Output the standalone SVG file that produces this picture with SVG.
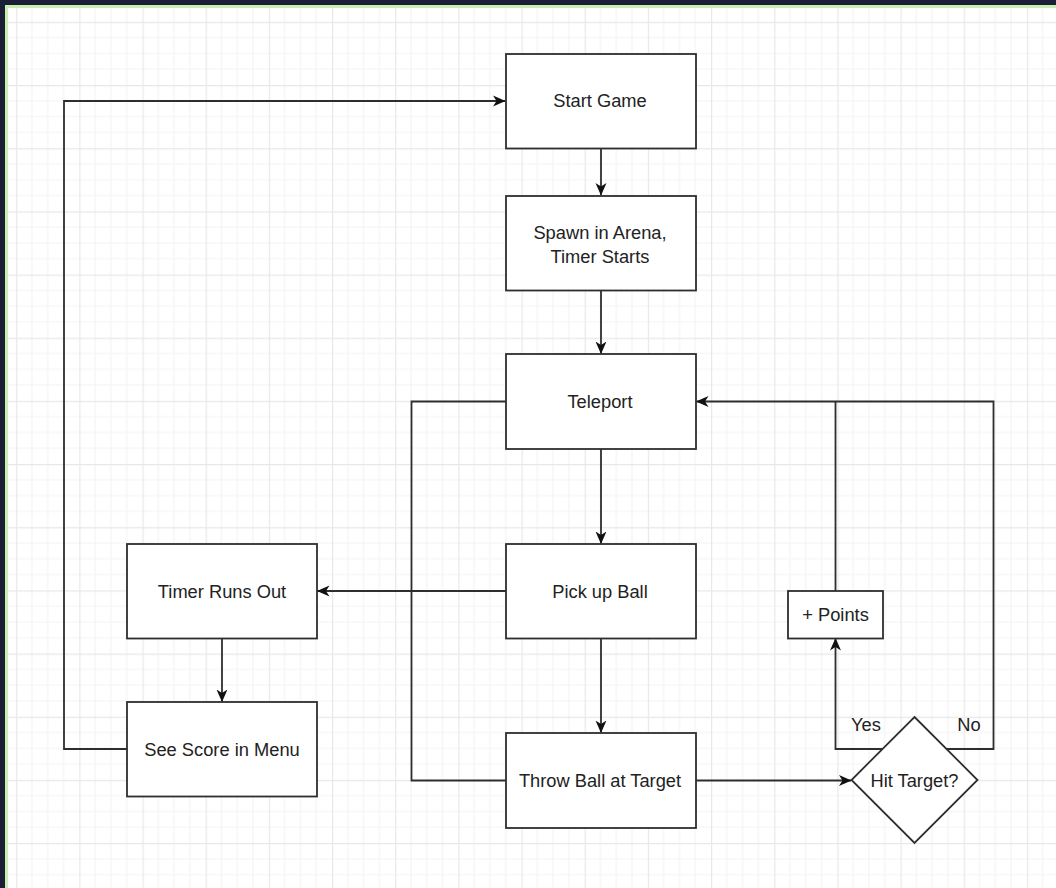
<svg xmlns="http://www.w3.org/2000/svg" width="1056" height="888" viewBox="0 0 1056 888">
  <style>
    .box { fill: #ffffff; stroke: #2e2e2e; stroke-width: 1.8; }
    .lbl { font-family: "Liberation Sans", Arial, sans-serif; font-size: 18.3px; fill: #222222; text-anchor: middle; dominant-baseline: central; }
    .edge { fill: none; stroke: #2e2e2e; stroke-width: 1.8; }
  </style>
  <defs>
    <pattern id="grid" patternUnits="userSpaceOnUse" x="16.13" y="21.83" width="63.17" height="63.17">
      <rect width="63.17" height="63.17" fill="#ffffff"/>
      <path d="M15.79 0V63.17M31.58 0V63.17M47.38 0V63.17M0 15.79H63.17M0 31.58H63.17M0 47.38H63.17" stroke="#f4f4f4" stroke-width="1.2" fill="none"/>
      <path d="M0.5 0V63.17M0 0.5H63.17" stroke="#e8e8e8" stroke-width="1.4" fill="none"/>
    </pattern>
    <marker id="arr" markerWidth="14" markerHeight="12" refX="12" refY="6" orient="auto" markerUnits="userSpaceOnUse">
      <path d="M0 0.5 L12.5 6 L0 11.5 L3.5 6 Z" fill="#111111"/>
    </marker>
  </defs>

  <rect x="0" y="0" width="1056" height="888" fill="#1b1f36"/>
  <rect x="5" y="5" width="1051" height="883" fill="#c8eeb4"/>
  <rect x="8" y="8" width="1048" height="880" fill="url(#grid)"/>

  <g id="connectors">
    <path class="edge" d="M127 749 H64 V101 H505" marker-end="url(#arr)"/>
    <path class="edge" d="M601 148.5 V195" marker-end="url(#arr)"/>
    <path class="edge" d="M601 290.5 V353.5" marker-end="url(#arr)"/>
    <path class="edge" d="M601 449 V543.5" marker-end="url(#arr)"/>
    <path class="edge" d="M601 638.5 V732.5" marker-end="url(#arr)"/>
    <path class="edge" d="M506 591 H317.5" marker-end="url(#arr)"/>
    <path class="edge" d="M222 638.5 V701.5" marker-end="url(#arr)"/>
    <path class="edge" d="M506 401.5 H411.5 V780.5 H506"/>
    <path class="edge" d="M696 780.5 H851" marker-end="url(#arr)"/>
    <path class="edge" d="M882.5 749 H835.5 V638.5" marker-end="url(#arr)"/>
    <path class="edge" d="M946.5 749 H993.5 V401.5 H696.5" marker-end="url(#arr)"/>
    <path class="edge" d="M835.5 591 V401.5"/>
    <text class="lbl" x="866" y="724">Yes</text>
    <text class="lbl" x="969" y="724">No</text>
  </g>

  <g id="start-game">
    <rect class="box" x="506" y="54" width="190" height="94.5"/>
    <text class="lbl" x="600" y="100.5">Start Game</text>
  </g>
  <g id="spawn">
    <rect class="box" x="506" y="196" width="190" height="94.5"/>
    <text class="lbl" x="600" y="232">Spawn in Arena,</text>
    <text class="lbl" x="600" y="256">Timer Starts</text>
  </g>
  <g id="teleport">
    <rect class="box" x="506" y="354" width="190" height="95"/>
    <text class="lbl" x="600" y="401">Teleport</text>
  </g>
  <g id="pick-up-ball">
    <rect class="box" x="506" y="544" width="190" height="94.5"/>
    <text class="lbl" x="600" y="591">Pick up Ball</text>
  </g>
  <g id="throw-ball">
    <rect class="box" x="506" y="733" width="190" height="95"/>
    <text class="lbl" x="600" y="780">Throw Ball at Target</text>
  </g>
  <g id="timer-runs-out">
    <rect class="box" x="127" y="544" width="190" height="94.5"/>
    <text class="lbl" x="222" y="591">Timer Runs Out</text>
  </g>
  <g id="see-score">
    <rect class="box" x="127" y="702" width="190" height="94.5"/>
    <text class="lbl" x="222" y="749">See Score in Menu</text>
  </g>
  <g id="points">
    <rect class="box" x="788" y="591" width="95" height="47.5"/>
    <text class="lbl" x="835.5" y="614">+ Points</text>
  </g>
  <g id="hit-target">
    <path class="box" d="M914.5 717 L977.5 780 L914.5 843 L851.5 780 Z"/>
    <text class="lbl" x="914.5" y="780">Hit Target?</text>
  </g>
</svg>
